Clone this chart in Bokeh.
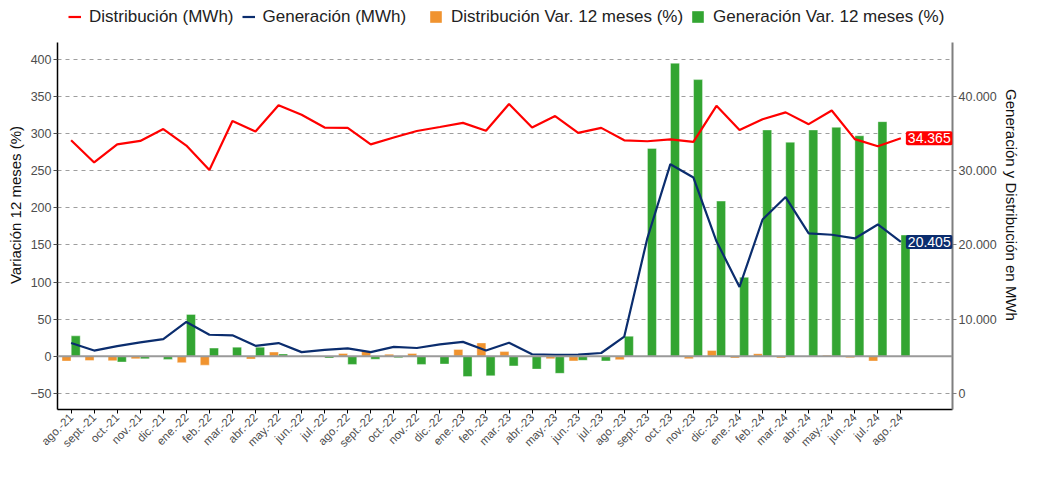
import math
from bokeh.plotting import figure
from bokeh.models import (Range1d, LinearAxis, FixedTicker, Legend, LegendItem,
                          Span, Label)
from bokeh.embed import file_html
from bokeh.resources import INLINE

months = ["ago.-21", "sept.-21", "oct.-21", "nov.-21", "dic.-21", "ene.-22", "feb.-22",
          "mar.-22", "abr.-22", "may.-22", "jun.-22", "jul.-22", "ago.-22", "sept.-22",
          "oct.-22", "nov.-22", "dic.-22", "ene.-23", "feb.-23", "mar.-23", "abr.-23",
          "may.-23", "jun.-23", "jul.-23", "ago.-23", "sept.-23", "oct.-23", "nov.-23",
          "dic.-23", "ene.-24", "feb.-24", "mar.-24", "abr.-24", "may.-24", "jun.-24",
          "jul.-24", "ago.-24"]

dist_mwh = [34100, 31100, 33540, 34000, 35600, 33380, 30100, 36680, 35260, 38810,
            37520, 35800, 35760, 33540, 34470, 35340, 35880, 36430, 35380, 38980,
            35800, 37350, 35090, 35760, 34090, 33960, 34210, 33880, 38730, 35470,
            36930, 37850, 36260, 38100, 34250, 33290, 34365]

gen_mwh = [6780, 5770, 6360, 6860, 7320, 9620, 7900, 7820, 6400, 6780,
           5560, 5860, 6060, 5560, 6270, 6110, 6610, 6940, 5770, 6820,
           5270, 5190, 5230, 5440, 7650, 20900, 30870, 29070, 20490, 14340,
           23420, 26440, 21540, 21370, 20870, 22750, 20405]

dist_var = [-6.5, -5.7, -6.0, -3.5, 0.0, -8.6, -12.0, 0.5, -3.8, 5.7,
            0.5, 0.3, 3.8, 7.0, 2.8, 3.8, 0.3, 9.2, 18.0, 6.3,
            0.5, -3.4, -6.3, 0.3, -4.6, 0.3, 0.3, -3.4, 7.8, -2.3,
            3.5, -2.3, 0.3, 1.5, -2.0, -6.5, 0.3]

gen_var = [27.5, 0.3, -7.8, -3.5, -4.2, 56.4, 11.0, 12.3, 12.3, 3.1,
           1.0, -2.5, -11.0, -4.0, -2.1, -11.0, -10.5, -27.4, -26.4, -13.0,
           -17.3, -23.0, -5.5, -6.3, 27.0, 280.0, 394.7, 372.6, 209.0, 106.3,
           304.8, 288.3, 304.8, 308.4, 297.0, 316.0, 163.3]

left_ticks = [-50, 0, 50, 100, 150, 200, 250, 300, 350, 400]
right_ticks = [0, 10000, 20000, 30000, 40000]
right_tick_labels = ["0", "10.000", "20.000", "30.000", "40.000"]

FONT = "Liberation Sans"
RED = "#FF0000"
NAVY = "#0B2D6E"
ORANGE = "#F0932F"
GREEN = "#33A532"

# layout (pixels)
W, H = 1022, 467
BL, BR, BB = 57, 70, 58
PANEL_TOP = 42                     # where the plotting panel visually starts
FH = H - BB                        # frame spans the full height above the x axis
L_LO, L_HI = -71.7, 422.6          # visible bounds of the left scale
upp = (L_HI - L_LO) / (FH - PANEL_TOP)
L_TOP = L_HI + PANEL_TOP * upp
R_LO, R_HI = (L_LO + 50) * 100, (L_HI + 50) * 100
R_TOP = (L_TOP + 50) * 100

x = list(range(len(months)))
x_or = [i - 0.2 for i in x]
x_gr = [i + 0.2 for i in x]

p = figure(width=W, height=H, output_backend="svg", toolbar_location=None,
           x_range=Range1d(-0.59, 38.24), y_range=Range1d(L_LO, L_TOP),
           min_border_left=BL, min_border_right=BR, min_border_top=0,
           min_border_bottom=BB)
p.extra_y_ranges = {"mwh": Range1d(R_LO, R_TOP)}
p.outline_line_color = None

# grid
p.xgrid.visible = False
p.ygrid.ticker = FixedTicker(ticks=left_ticks)
p.ygrid.grid_line_color = "#9e9e9e"
p.ygrid.grid_line_dash = "4 4"
p.ygrid.grid_line_width = 1

# bars
r_or = p.vbar(x=x_or, top=dist_var, bottom=0, width=0.39, fill_color=ORANGE,
              line_color="white", line_alpha=0.5, line_width=0.8)
r_gr = p.vbar(x=x_gr, top=gen_var, bottom=0, width=0.39, fill_color=GREEN,
              line_color="white", line_alpha=0.5, line_width=0.8)

p.add_layout(Span(location=0, dimension="width", line_color="#9a9a9a", line_width=2))

# lines
r_red = p.line(x, dist_mwh, y_range_name="mwh", line_color=RED, line_width=2.2)
r_blue = p.line(x, gen_mwh, y_range_name="mwh", line_color=NAVY, line_width=2.2)

# axes
ya = p.yaxis[0]
ya.ticker = FixedTicker(ticks=left_ticks)
ya.bounds = (L_LO, L_HI)
ya.axis_label = "Variación 12 meses (%)"
xa = p.xaxis[0]
xa.ticker = FixedTicker(ticks=x)
xa.major_label_overrides = {i: m for i, m in enumerate(months)}
xa.major_label_orientation = math.pi / 4

ra = LinearAxis(y_range_name="mwh", ticker=FixedTicker(ticks=right_ticks),
                axis_label="Generación y Distribución en MWh", bounds=(R_LO, R_HI))
ra.major_label_overrides = {t: l for t, l in zip(right_ticks, right_tick_labels)}
p.add_layout(ra, "right")

for ax in (ya, xa, ra):
    ax.major_label_text_font = FONT
    ax.major_label_text_color = "#4d4d4d"
    ax.major_label_text_font_size = "12.5px"
    ax.axis_label_text_font = FONT
    ax.axis_label_text_font_size = "15px"
    ax.axis_label_text_font_style = "normal"
    ax.axis_label_text_color = "#111111"
    ax.minor_tick_line_color = None
    ax.major_tick_in = 0
    ax.major_tick_out = 4
    ax.major_label_standoff = 2
    ax.axis_label_standoff = 3
xa.major_label_text_font_size = "11.5px"
ya.axis_line_color = "black"
ya.axis_line_width = 1.5
ya.major_tick_line_color = "#4d4d4d"
xa.axis_line_color = "black"
xa.axis_line_width = 1.5
xa.major_tick_line_color = "black"
ra.axis_line_color = "#7f7f7f"
ra.axis_line_width = 2
ra.major_tick_line_color = "#7f7f7f"

# legends (inside the frame's top strip, above the plotting panel)
leg_y = FH - 26.5
leg_common = dict(padding=0, margin=0, border_line_color=None, background_fill_alpha=0,
                  orientation="horizontal", label_text_font=FONT,
                  label_text_font_size="17px", label_text_color="#222222",
                  glyph_height=15, label_height=17, label_standoff=8)
leg1 = Legend(items=[LegendItem(label="Distribución (MWh)", renderers=[r_red]),
                     LegendItem(label="Generación (MWh)", renderers=[r_blue])],
              location=(68 - BL, leg_y), spacing=8, glyph_width=13, **leg_common)
leg2 = Legend(items=[LegendItem(label="Distribución Var. 12 meses (%)", renderers=[r_or]),
                     LegendItem(label="Generación Var. 12 meses (%)", renderers=[r_gr])],
              location=(428 - BL, leg_y), spacing=7, glyph_width=15, **leg_common)
p.add_layout(leg1)
p.add_layout(leg2)

# end value labels
last = len(months) - 1
for val, col in ((dist_mwh[last], RED), (gen_mwh[last], NAVY)):
    txt = f"{val:,}".replace(",", ".")
    p.add_layout(Label(x=last, y=val, y_range_name="mwh", x_offset=5, text=txt,
                       text_color="white", text_font=FONT, text_font_size="14px",
                       text_baseline="middle", text_align="left",
                       background_fill_color=col, padding=2, border_radius=2))

open("out.html", "w").write(file_html(p, INLINE))
